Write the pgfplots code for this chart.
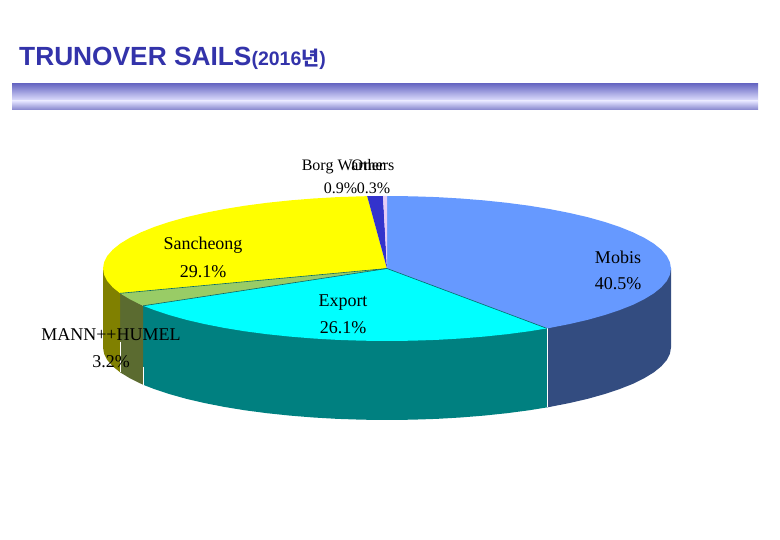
\documentclass[border=0pt]{standalone}
\usepackage{pgfplots}
\pgfplotsset{compat=1.18}
\usepackage{fontspec}
\setmainfont{Liberation Serif}
\newfontfamily\titlefont{Liberation Sans}
\newfontfamily\krfont{Noto Sans CJK KR}
\definecolor{mobis}{HTML}{6699FF}
\definecolor{mobisside}{HTML}{334C80}
\definecolor{export}{HTML}{00FFFF}
\definecolor{exportside}{HTML}{008080}
\definecolor{mann}{HTML}{99CC66}
\definecolor{mannside}{HTML}{5B6B30}
\definecolor{sanch}{HTML}{FFFF00}
\definecolor{sanchside}{HTML}{808000}
\definecolor{borg}{HTML}{3333CC}
\definecolor{others}{HTML}{E6CCF5}
\definecolor{edge}{HTML}{006666}
\definecolor{titleblue}{HTML}{3333AA}
\definecolor{bandtop}{HTML}{6A6AC4}
\definecolor{bandmid}{HTML}{E2E2FF}
\definecolor{bandlow}{HTML}{8484CC}
\begin{document}
\begin{tikzpicture}
\useasboundingbox (0,0) rectangle (780pt,540pt);
\begin{axis}[
  width=780pt, height=540pt, scale only axis,
  xmin=0, xmax=780, ymin=0, ymax=540,
  y dir=reverse,
  hide axis,
  clip=false,
]
% banner
\addplot[draw=none, top color=bandtop, bottom color=bandmid] coordinates {(12,84) (758,84) (758,101) (12,101) (12,84)};
\addplot[draw=none, top color=bandmid, bottom color=bandlow] coordinates {(12,101) (758,101) (758,110) (12,110) (12,101)};

% sides
\addplot[fill=mobisside, draw=none] coordinates {(671,268.5) (671,347.5) (669.9,353.8) (666.7,360.1) (661.3,366.3) (653.9,372.3) (644.4,378.1) (632.9,383.8) (619.6,389.1) (604.5,394.1) (587.8,398.8) (569.6,403) (549.9,406.9) (547,407.4) (547,328.4) (671,268.5)};
\addplot[fill=exportside, draw=none] coordinates {(547,328.4) (547,407.4) (529,410.3) (507,413.2) (484.1,415.6) (460.5,417.5) (436.3,418.9) (411.8,419.7) (387,420) (362.2,419.7) (337.7,418.9) (313.5,417.5) (289.9,415.6) (267,413.2) (245,410.3) (224.1,406.9) (204.4,403) (186.2,398.8) (169.5,394.1) (154.4,389.1) (143.2,384.8) (143.2,305.8) (547,328.4)};
\addplot[fill=mannside, draw=none] coordinates {(143.2,305.8) (143.2,384.8) (141.1,383.8) (129.6,378.1) (120.1,372.3) (120.1,293.3) (143.2,305.8)};
\addplot[fill=sanchside, draw=none] coordinates {(120.1,293.3) (120.1,372.3) (112.7,366.3) (107.3,360.1) (104.1,353.8) (103,347.5) (103,268.5) (120.1,293.3)};
\addplot[white, line width=1pt] coordinates {(547,328.4) (547,407.4)};
\addplot[white, line width=1pt] coordinates {(143.2,367) (143.2,384.8)};
\addplot[white, line width=0.8pt] coordinates {(120.1,342) (120.1,372.3)};

% top face
\addplot[fill=mobis, draw=none] coordinates {(387,268.5) (387,196) (411.8,196.3) (436.3,197.1) (460.5,198.5) (484.1,200.4) (507,202.8) (529,205.7) (549.9,209.1) (569.6,213) (587.8,217.2) (604.5,221.9) (619.6,226.9) (632.9,232.3) (644.4,237.9) (653.9,243.7) (661.3,249.7) (666.7,255.9) (669.9,262.2) (671,268.5) (669.9,274.8) (666.7,281.1) (661.3,287.3) (653.9,293.3) (644.4,299.1) (632.9,304.8) (619.6,310.1) (604.5,315.1) (587.8,319.8) (569.6,324) (549.9,327.9) (547,328.4) (387,268.5)};
\addplot[fill=export, draw=none] coordinates {(387,268.5) (547,328.4) (529,331.3) (507,334.2) (484.1,336.6) (460.5,338.5) (436.3,339.9) (411.8,340.7) (387,341) (362.2,340.7) (337.7,339.9) (313.5,338.5) (289.9,336.6) (267,334.2) (245,331.3) (224.1,327.9) (204.4,324) (186.2,319.8) (169.5,315.1) (154.4,310.1) (143.2,305.8) (387,268.5)};
\addplot[fill=mann, draw=none] coordinates {(387,268.5) (143.2,305.8) (141.1,304.8) (129.6,299.1) (120.1,293.3) (387,268.5)};
\addplot[fill=sanch, draw=none] coordinates {(387,268.5) (120.1,293.3) (112.7,287.3) (107.3,281.1) (104.1,274.8) (103,268.5) (104.1,262.2) (107.3,255.9) (112.7,249.7) (120.1,243.7) (129.6,237.9) (141.1,232.3) (154.4,226.9) (169.5,221.9) (186.2,217.2) (204.4,213) (224.1,209.1) (245,205.7) (267,202.8) (289.9,200.4) (313.5,198.5) (337.7,197.1) (362.2,196.3) (367.2,196.2) (387,268.5)};
\addplot[fill=borg, draw=none] coordinates {(387,268.5) (367.2,196.2) (383,196) (387,268.5)};
\addplot[fill=others, draw=none] coordinates {(387,268.5) (383,196) (387,196) (387,268.5)};

% slice edges
\addplot[edge, line width=0.6pt] coordinates {(387,268.5) (120.1,293.3)};
\addplot[edge, line width=0.6pt] coordinates {(387,268.5) (143.2,305.8)};
\addplot[edge, line width=0.6pt] coordinates {(387,268.5) (547,328.4)};

% title
\node[anchor=base west, inner sep=0pt, text=titleblue] at (axis cs:19,66) {\titlefont\bfseries\fontsize{26.3}{30}\selectfont TRUNOVER SAILS\fontsize{19.5}{22}\selectfont(2016{\krfont\bfseries 년})};

% labels
\begin{scope}[every node/.style={inner sep=0pt, font=\fontsize{18}{20}\selectfont}]
\node[font=\fontsize{16}{20}\selectfont] at (axis cs:343,166.5) {Borg Warner};
\node[font=\fontsize{16}{20}\selectfont] at (axis cs:373,165) {Others};
\node[font=\fontsize{16}{20}\selectfont] at (axis cs:340.5,188) {0.9\%};
\node[font=\fontsize{16}{20}\selectfont] at (axis cs:373.5,188) {0.3\%};
\node at (axis cs:203,245.5) {Sancheong};
\node at (axis cs:203,272) {29.1\%};
\node at (axis cs:618,257) {Mobis};
\node at (axis cs:618,284) {40.5\%};
\node at (axis cs:343,303) {Export};
\node at (axis cs:343,328) {26.1\%};
\node at (axis cs:111,335) {MANN++HUMEL};
\node at (axis cs:111,362) {3.2\%};
\end{scope}
\end{axis}
\end{tikzpicture}
\end{document}
